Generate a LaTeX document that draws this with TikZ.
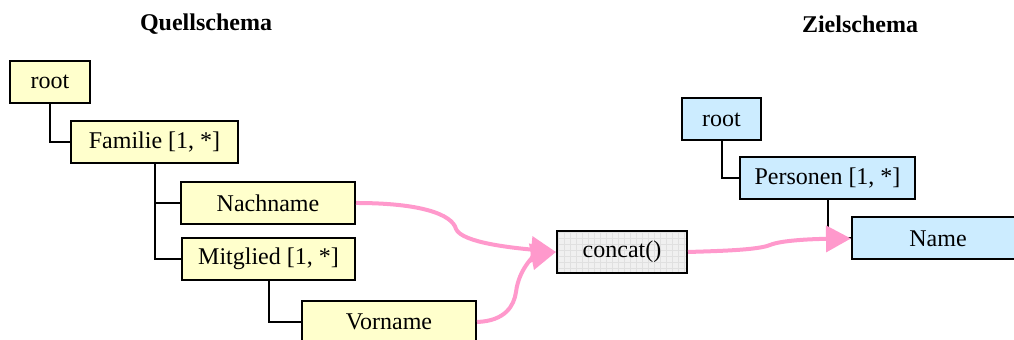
\documentclass[tikz,border=0pt]{standalone}
\usepackage{fontspec}
\setmainfont{Liberation Serif}
\usetikzlibrary{arrows.meta,patterns}
\definecolor{srcyellow}{RGB}{255,255,204}
\definecolor{tgtblue}{RGB}{204,236,255}
\definecolor{mappink}{RGB}{255,153,204}
\tikzset{
	box/.style={draw,line width=1pt,minimum height=21pt,inner sep=0pt,font=\fontsize{12}{14}\selectfont},
	src/.style={box,fill=srcyellow},
	tgt/.style={box,fill=tgtblue},
	fn/.style={box,preaction={fill=black!6},pattern=grid,pattern color=black!12},
	link/.style={line width=1pt},
	map/.style={draw=mappink,line width=2pt,-{Triangle[length=12.5pt,width=13pt]},fill=none}
}

\begin{document}
\begin{tikzpicture}[x=0.5pt,y=-0.5pt]
			\useasboundingbox (0,0) rectangle (1014,340);

			\node[font=\fontsize{12}{14}\selectfont\bfseries] (qtitle) at (206,24) {Quellschema};
			\node[font=\fontsize{12}{14}\selectfont\bfseries] (ztitle) at (860,24) {Zielschema};

			% Quellschema
			\node[src,minimum width=40pt] (qroot) at (50,82) {root};
			\node[src,minimum width=83.5pt] (familie) at (154.5,142) {Familie [1, *]};
			\node[src,minimum width=87pt] (nachname) at (268,203) {Nachname};
			\node[src,minimum width=86.5pt] (mitglied) at (268.5,259) {Mitglied [1, *]};
			\node[src,minimum width=87pt] (vorname) at (389,322) {Vorname};

			% Zielschema
			\node[tgt,minimum width=39.5pt] (zroot) at (721.5,119.5) {root};
			\node[tgt,minimum width=87.5pt] (personen) at (827.5,178.5) {Personen [1, *]};
			\node[tgt,minimum width=86pt] (name) at (938,238.5) {Name};

			\node[fn,minimum width=65pt] (concat) at (622,252) {concat()};

			\draw[link] (qroot.south) |- (familie.west);
			\draw[link] (familie.south) |- (nachname.west);
			\draw[link] (familie.south) |- (mitglied.west);
			\draw[link] (mitglied.south) |- (vorname.west);
			\draw[link] (zroot.south) |- (personen.west);
			\draw[link] (personen.south) |- (name.west);

			\draw[map] (nachname.east) .. controls (420,203) and (452,214) .. (456,229)
				.. controls (462,243) and (515,248) .. (concat.west);
			\draw[map] (vorname.east) .. controls (505,321) and (514,306) .. (516,292)
				.. controls (519,268) and (535,256) .. (concat.west);
			\draw[map] (concat.east) .. controls (720,251) and (758,250) .. (770,245)
				.. controls (782,240) and (815,239) .. (name.west);
		\end{tikzpicture}
\end{document}
